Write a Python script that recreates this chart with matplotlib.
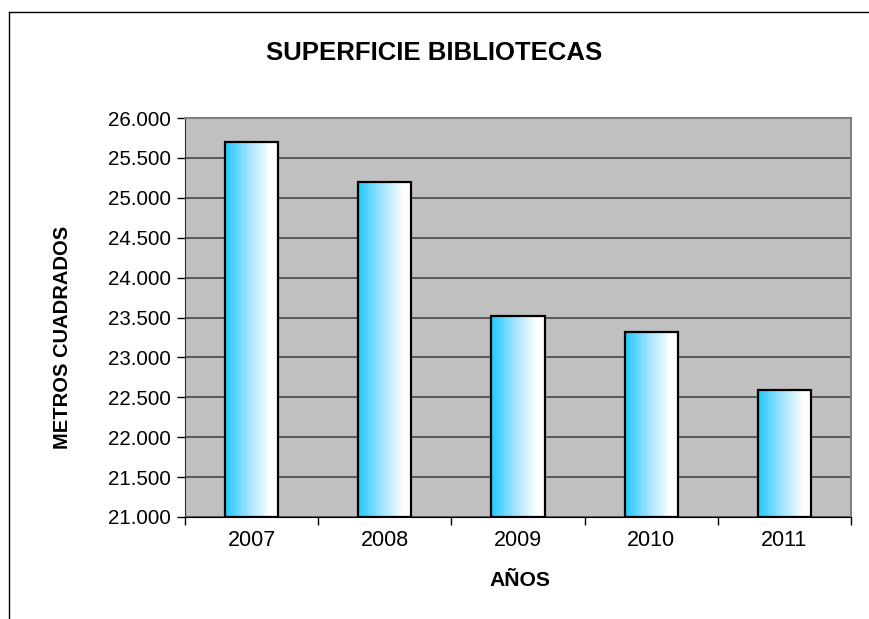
import numpy as np
import matplotlib
matplotlib.use("Agg")
from matplotlib import pyplot as plt
from matplotlib.ticker import FuncFormatter, FixedLocator
from matplotlib.colors import LinearSegmentedColormap
from matplotlib.lines import Line2D

plt.rcParams['font.family'] = ['Liberation Sans', 'DejaVu Sans']

years = ['2007', '2008', '2009', '2010', '2011']
superficie = [25700, 25200, 23525, 23320, 22590]

fig = plt.figure(figsize=(8.7, 6.19), dpi=100)
W, H = 870, 619
ax = fig.add_axes([185 / W, 1 - 517 / H, (851 - 185) / W, (517 - 118) / H])
ax.set_facecolor('#c0c0c0')

x = np.arange(len(years))
bars = ax.bar(x, [v - 21000 for v in superficie], width=0.4, bottom=21000,
              facecolor='none', edgecolor='black', linewidth=1.6, zorder=3)

# cyan -> white gradient inside each bar
cmap = LinearSegmentedColormap.from_list('grad', [(0, '#1ec8ff'), (0.45, '#a6e4ff'), (0.85, '#ffffff'), (1, '#ffffff')])
grad = np.linspace(0, 1, 256).reshape(1, -1)
for b in bars:
    x0, y0 = b.get_x(), b.get_y()
    im = ax.imshow(grad, cmap=cmap, aspect='auto', zorder=2,
                   extent=[x0, x0 + b.get_width(), y0, y0 + b.get_height()])
    im.set_clip_path(b)

ax.set_xlim(-0.5, len(years) - 0.5)
ax.set_ylim(21000, 26000)
ax.yaxis.set_major_locator(FixedLocator(np.arange(21000, 26001, 500)))
ax.yaxis.set_major_formatter(FuncFormatter(lambda v, p: f'{int(v):,}'.replace(',', '.')))
ax.set_xticks(x)
ax.set_xticklabels(years)
ax.xaxis.set_minor_locator(FixedLocator(np.arange(-0.5, len(years), 1)))
ax.tick_params(axis='x', which='major', length=0, pad=9, labelsize=15.5)
ax.tick_params(axis='x', which='minor', length=6, width=1, direction='out')
ax.tick_params(axis='y', length=6, width=1, direction='out', pad=4, labelsize=14.8)
ax.grid(axis='y', color='#505050', linewidth=1.3, zorder=1)
ax.set_axisbelow(True)

for s in ['top', 'right']:
    ax.spines[s].set_color('#808080')
    ax.spines[s].set_linewidth(1.5)
ax.spines['left'].set_color('#303030')
ax.spines['bottom'].set_color('black')

fig.text(434 / W, 1 - 53 / H, 'SUPERFICIE BIBLIOTECAS', ha='center', va='center',
         fontsize=18.5, fontweight='bold')
fig.text(520 / W, 1 - 580 / H, 'AÑOS', ha='center', va='center',
         fontsize=15.2, fontweight='bold')
fig.text(63 / W, 1 - 337 / H, 'METROS CUADRADOS', ha='center', va='center',
         rotation=90, fontsize=14.5, fontweight='bold')

# outer chart frame (cut off at right and bottom)
fig.add_artist(Line2D([9.5 / W, 1], [1 - 12 / H, 1 - 12 / H], color='black', linewidth=1))
fig.add_artist(Line2D([9.5 / W, 9.5 / W], [0, 1 - 12 / H], color='black', linewidth=1))

fig.savefig('out.png', dpi=100)
